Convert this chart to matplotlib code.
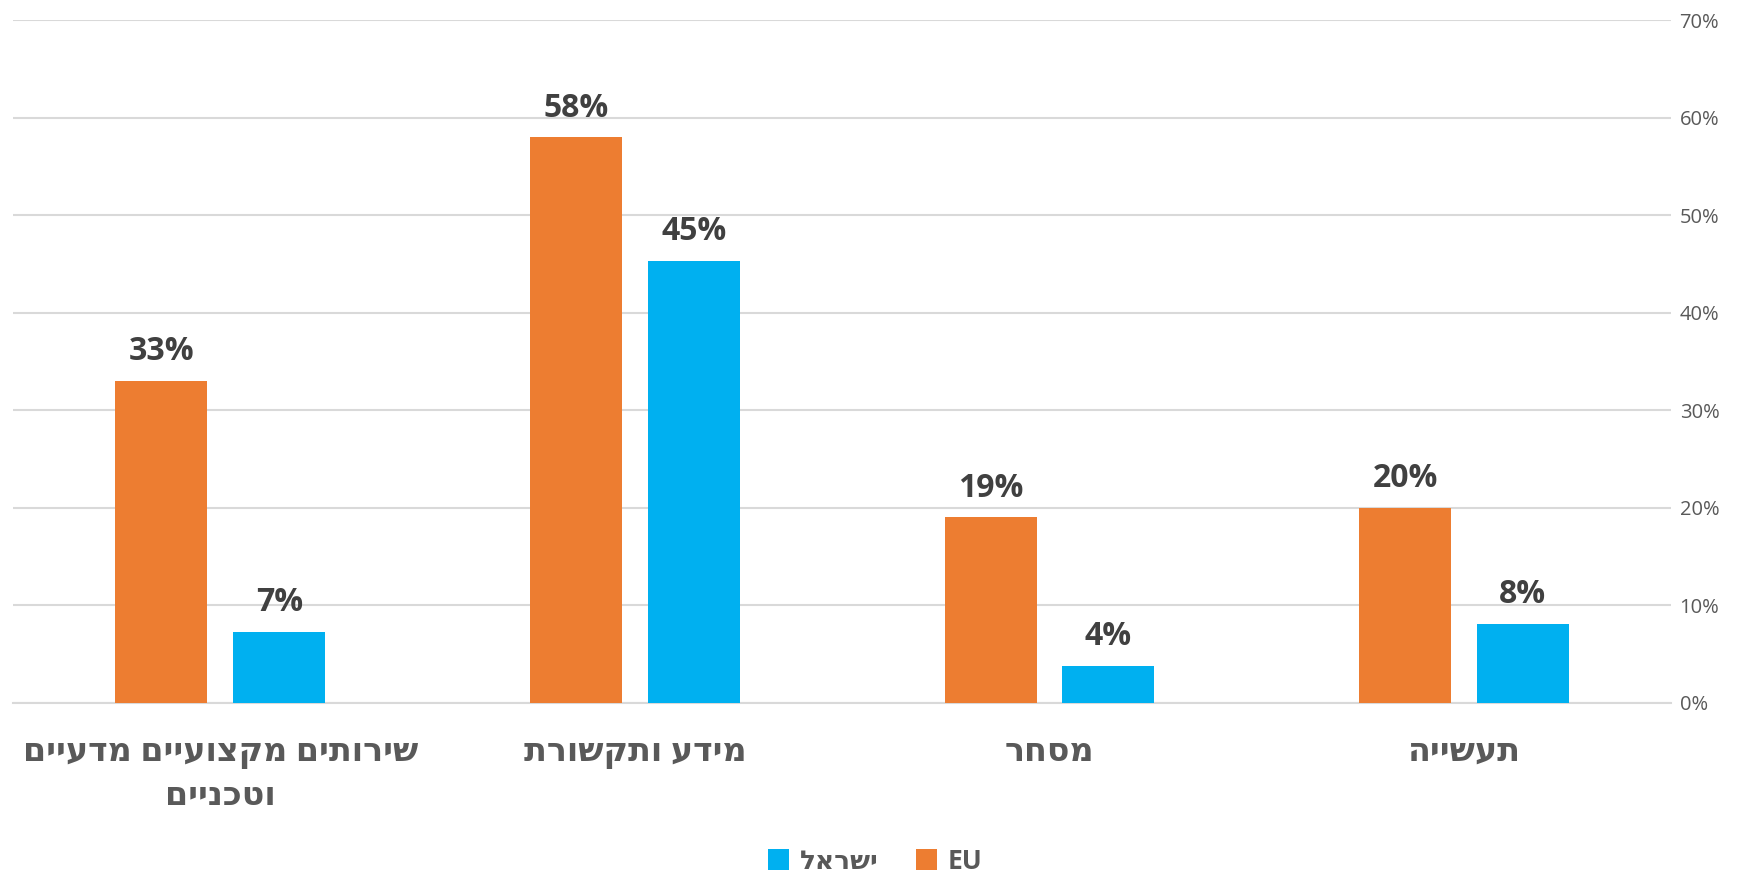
import matplotlib
matplotlib.use("Agg")
import matplotlib.pyplot as plt
import numpy as np

plt.rcParams['font.family'] = ['Open Sans', 'DejaVu Sans']

# data (category order left to right)
categories = ["שירותים מקצועיים מדעיים\nוטכניים", "מידע ותקשורת", "מסחר", "תעשייה"]
eu_values = [33.0, 58.0, 19.0, 20.0]
israel_values = [7.3, 45.3, 3.8, 8.1]
series_names = ["EU", "ישראל"]
y_ticks = [0, 10, 20, 30, 40, 50, 60, 70]

EU_COLOR = "#ED7D31"
IL_COLOR = "#00B0F0"
TEXT_DARK = "#404040"
TEXT_GRAY = "#595959"
GRID = "#D9D9D9"


def rtl(s):
    # matplotlib has no bidi support, flip each line by hand
    return "\n".join(line[::-1] for line in s.split("\n"))


fig = plt.figure(figsize=(17.4, 8.74), dpi=100)
ax = fig.add_axes([0.0075, 0.196, 0.953, 0.781])

x = np.arange(len(categories))
w = 0.222
off = 0.142
b_eu = ax.bar(x - off, eu_values, w, color=EU_COLOR, label=series_names[0], zorder=3)
b_il = ax.bar(x + off, israel_values, w, color=IL_COLOR, label=rtl(series_names[1]), zorder=3)

for bars, vals in [(b_eu, eu_values), (b_il, israel_values)]:
    for rect, v in zip(bars, vals):
        ax.annotate(f"{v:.0f}%", (rect.get_x() + rect.get_width() / 2, v),
                    xytext=(0, 9), textcoords="offset points",
                    ha="center", va="bottom", fontsize=23, fontweight="bold",
                    color=TEXT_DARK)

ax.set_xlim(-0.5, len(categories) - 0.5)
ax.set_ylim(0, 70)
ax.set_yticks(y_ticks)
ax.set_yticklabels([f"{t}%" for t in y_ticks], fontsize=14.5, color=TEXT_GRAY)
ax.yaxis.tick_right()
ax.tick_params(axis="y", length=0, pad=6)
ax.grid(axis="y", color=GRID, linewidth=1.5, zorder=0)

ax.set_xticks(x)
ax.set_xticklabels([rtl(c) for c in categories], fontsize=24, fontweight="bold",
                   color=TEXT_GRAY, linespacing=1.45)
ax.tick_params(axis="x", length=0, pad=24)

for s in ["top", "left", "right"]:
    ax.spines[s].set_visible(False)
ax.spines["bottom"].set_color(GRID)
ax.spines["bottom"].set_linewidth(1.5)

fig.legend(handles=[b_il, b_eu], labels=[rtl(series_names[1]), series_names[0]],
           loc="lower center", bbox_to_anchor=(0.503, -0.028), ncol=2, frameon=False,
           prop={"size": 19, "weight": "bold"}, labelcolor=TEXT_GRAY,
           handlelength=0.8, handleheight=0.8, handletextpad=0.4, columnspacing=1.4)

fig.savefig("out.png", dpi=100)
